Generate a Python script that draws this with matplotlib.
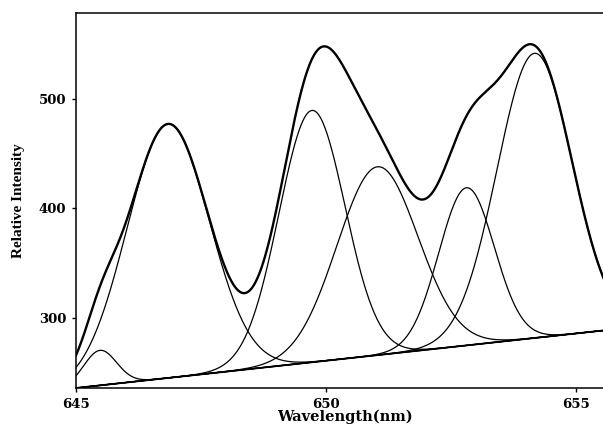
import numpy as np
import matplotlib
matplotlib.use("Agg")
import matplotlib.pyplot as plt

# fitted gaussian components
centers = [645.48, 646.84, 649.72, 651.03, 652.81, 654.17]
heights = [32, 232, 230, 172, 144, 260]
sigmas = [0.33, 0.82, 0.66, 0.81, 0.555, 0.75]

# linear background
baseline_x = [645.0, 655.6]
baseline_y = [236.0, 288.8]

x_ticks = [645, 650, 655]
y_ticks = [300, 400, 500]

wl = np.linspace(645.0, 655.6, 800)
base = np.interp(wl, baseline_x, baseline_y)

fig = plt.figure(figsize=(6.03, 4.26), dpi=100)
ax = fig.add_axes([0.126, 0.0892, 0.874, 0.8803])

total = base.copy()
for c, h, s in zip(centers, heights, sigmas):
    g = h * np.exp(-(wl - c) ** 2 / (2 * s ** 2))
    total += g
    ax.plot(wl, base + g, color='black', lw=0.9)

ax.plot(baseline_x, baseline_y, color='black', lw=1.3)
ax.plot(wl, total, color='black', lw=1.7)

ax.set_xlim(645, 655.54)
ax.set_ylim(236, 578.5)
ax.spines['right'].set_visible(False)
for sp in ['left', 'bottom', 'top']:
    ax.spines[sp].set_linewidth(1.1)

ax.set_xticks(x_ticks)
ax.set_yticks(y_ticks)
ax.tick_params(direction='out', length=3, width=1, pad=4)
for lab in ax.get_xticklabels() + ax.get_yticklabels():
    lab.set_family('DejaVu Serif')
    lab.set_weight('bold')
    lab.set_size(9.5)

ax.set_xlabel('Wavelength(nm)', family='DejaVu Serif', weight='bold', size=10.5)
ax.xaxis.set_label_coords(0.51, -0.058)
ax.set_ylabel('Relative Intensity', family='Liberation Serif', weight='bold', size=11, labelpad=10)

fig.savefig('out.png', dpi=100)
